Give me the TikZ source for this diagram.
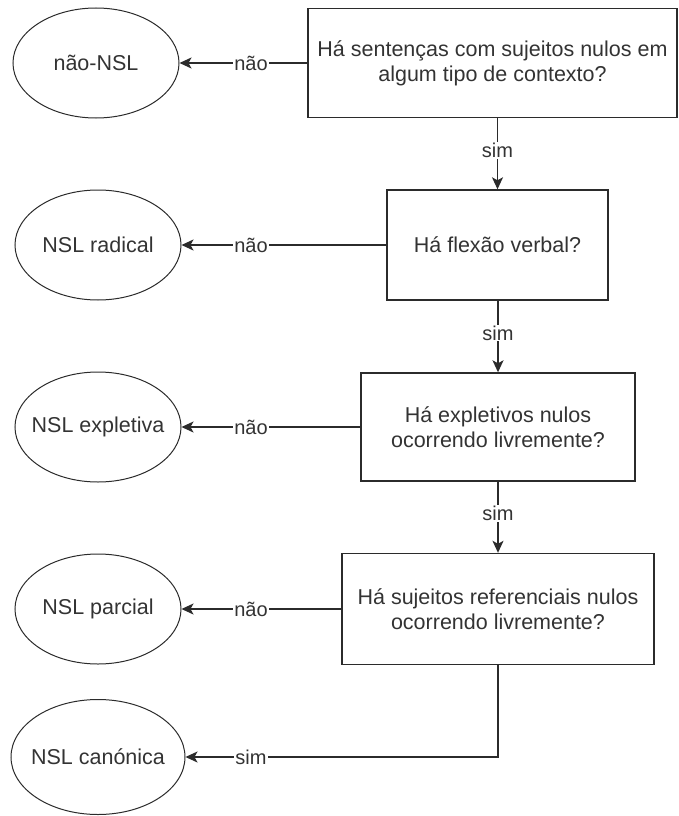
\documentclass[tikz,border=0pt]{standalone}
\usepackage{fontspec}
\setmainfont{Liberation Sans}
\usepackage{xcolor}
\usetikzlibrary{shapes.geometric,arrows.meta,calc}
\definecolor{linegray}{HTML}{2b2b2b}
\definecolor{textgray}{HTML}{333333}

\begin{document}
\begin{tikzpicture}[x=1pt, y=-1pt,
  qbox/.style={draw=linegray, line width=1.4pt, rectangle, align=center, text=textgray,
    font=\fontsize{21.5}{25}\selectfont, inner sep=0pt},
  outc/.style={draw=linegray, line width=1pt, ellipse, minimum width=166pt, minimum height=110pt,
    inner xsep=-30pt, inner ysep=-10pt, text=textgray, font=\fontsize{21.5}{25}\selectfont},
  arr/.style={draw=linegray, line width=1.4pt, -{Stealth[length=12pt,width=11pt,inset=3pt]}},
  lbl/.style={fill=white, inner sep=1pt, text=textgray, font=\fontsize{20}{24}\selectfont}]
  \useasboundingbox (0,0) rectangle (678,816);

  % Questions
  \node[qbox, minimum width=369pt, minimum height=109pt] (q1) at (492.5,63) {H\'a senten\c{c}as com sujeitos nulos em\\algum tipo de contexto?};
  \node[qbox, minimum width=221pt, minimum height=110pt] (q2) at (497.5,245) {H\'a flex\~ao verbal?};
  \node[qbox, minimum width=274pt, minimum height=108pt] (q3) at (498,427) {H\'a expletivos nulos\\ocorrendo livremente?};
  \node[qbox, minimum width=312pt, minimum height=111pt] (q4) at (498,609) {H\'a sujeitos referenciais nulos\\ocorrendo livremente?};

  % Outcomes
  \node[outc] (e1) at (96,63) {n\~ao-NSL};
  \node[outc] (e2) at (98,245) {NSL radical};
  \node[outc] (e3) at (98,427) {NSL expletiva};
  \node[outc] (e4) at (98,609) {NSL parcial};
  \node[outc, minimum width=174pt, minimum height=115pt] (e5) at (98,757) {NSL can\'onica};

  % Label column
  \coordinate (lblx) at (251,0);

  % "nao" branches
  \foreach \i in {1,2,3,4} {
    \draw[arr] (q\i.west) -- (e\i.east);
    \node[lbl] at (lblx |- e\i) {n\~ao};
  }

  % "sim" branches
  \foreach \i/\j in {1/2,2/3,3/4} {
    \draw[arr] (q\j.north |- q\i.south) -- (q\j.north) node[lbl, pos=0.45] {sim};
  }
  \draw[arr] (q4.south) |- (e5.east);
  \node[lbl] at (lblx |- e5) {sim};
\end{tikzpicture}
\end{document}
